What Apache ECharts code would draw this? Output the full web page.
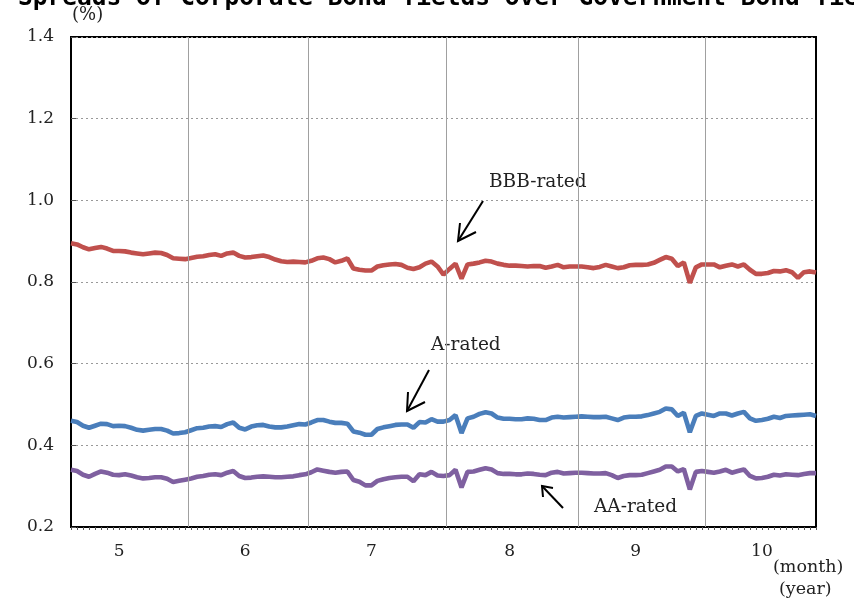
<!DOCTYPE html>
<html>
<head>
<meta charset="utf-8">
<script src="https://cdn.jsdelivr.net/npm/echarts@6/dist/echarts.min.js"></script>
<style>html,body{margin:0;padding:0;background:#fff}#c{width:854px;height:600px}</style>
</head>
<body>
<div id="c"></div>
<script>
// Daily business-day series (index 0 = first day shown in May)
const bbbRated = [0.895,0.892,0.885,0.880,0.883,0.886,0.882,0.876,0.876,0.875,
0.872,0.870,0.868,0.870,0.872,0.871,0.866,0.858,0.857,0.856,
0.859,0.862,0.863,0.866,0.868,0.864,0.870,0.872,0.864,0.860,
0.861,0.863,0.865,0.861,0.855,0.851,0.849,0.850,0.849,0.848,
0.852,0.858,0.860,0.856,0.848,0.852,0.858,0.833,0.830,0.828,
0.828,0.838,0.841,0.843,0.844,0.842,0.835,0.832,0.836,0.845,
0.850,0.838,0.818,0.832,0.845,0.808,0.843,0.845,0.848,0.852,
0.850,0.845,0.842,0.840,0.840,0.839,0.838,0.839,0.839,0.835,
0.838,0.842,0.836,0.838,0.838,0.838,0.836,0.834,0.837,0.842,
0.838,0.834,0.836,0.841,0.842,0.842,0.843,0.847,0.854,0.861,
0.857,0.839,0.848,0.798,0.836,0.843,0.843,0.843,0.836,0.840,
0.843,0.838,0.843,0.830,0.820,0.820,0.822,0.827,0.826,0.829,
0.824,0.810,0.824,0.826,0.823];
const aRated = [0.460,0.457,0.448,0.443,0.448,0.453,0.452,0.447,0.448,0.447,
0.443,0.438,0.436,0.438,0.440,0.440,0.436,0.429,0.430,0.432,
0.437,0.442,0.443,0.446,0.447,0.445,0.452,0.456,0.443,0.439,
0.446,0.449,0.450,0.446,0.444,0.444,0.446,0.449,0.452,0.451,
0.456,0.462,0.462,0.458,0.455,0.455,0.453,0.434,0.431,0.426,
0.426,0.440,0.444,0.447,0.450,0.451,0.451,0.443,0.457,0.456,
0.464,0.458,0.458,0.462,0.474,0.430,0.466,0.470,0.477,0.481,
0.478,0.468,0.465,0.465,0.464,0.464,0.466,0.465,0.462,0.462,
0.468,0.470,0.468,0.469,0.470,0.471,0.470,0.469,0.469,0.470,
0.466,0.462,0.468,0.470,0.470,0.471,0.474,0.478,0.482,0.490,
0.488,0.472,0.480,0.432,0.472,0.478,0.475,0.472,0.478,0.478,
0.473,0.478,0.482,0.466,0.460,0.462,0.465,0.470,0.467,0.472,
0.473,0.474,0.475,0.476,0.472];
const aaRated = [0.340,0.337,0.328,0.323,0.330,0.336,0.333,0.328,0.327,0.329,
0.326,0.322,0.319,0.320,0.322,0.322,0.318,0.310,0.313,0.316,
0.319,0.323,0.325,0.328,0.329,0.327,0.333,0.337,0.325,0.320,
0.321,0.323,0.324,0.323,0.322,0.322,0.323,0.324,0.327,0.329,
0.334,0.341,0.338,0.335,0.333,0.335,0.336,0.315,0.311,0.302,
0.302,0.313,0.317,0.320,0.322,0.323,0.323,0.312,0.329,0.327,
0.335,0.326,0.325,0.327,0.340,0.297,0.335,0.336,0.340,0.344,
0.341,0.332,0.330,0.330,0.329,0.329,0.331,0.330,0.328,0.327,
0.333,0.335,0.331,0.332,0.333,0.333,0.332,0.331,0.331,0.332,
0.327,0.320,0.325,0.327,0.327,0.328,0.332,0.336,0.340,0.348,
0.348,0.336,0.342,0.292,0.335,0.337,0.335,0.333,0.336,0.340,
0.333,0.337,0.341,0.325,0.319,0.320,0.323,0.328,0.326,0.329,
0.328,0.327,0.330,0.332,0.332];
// month tick labels and where they sit (day index), month boundaries (between days)
const monthLabels = ['5','6','7','8','9','10'];
const monthLabelIdx = [8,29,50,73,94,115];
const monthBoundaries = [19.5,39.5,62.5,84.5,105.5];
const yTicks = [0.2,0.4,0.6,0.8,1.0,1.2,1.4];
const seriesNames = ['BBB-rated','A-rated','AA-rated'];

const toPairs = arr => arr.map((v,i)=>[i,v]);
const labelMap = {};
monthLabelIdx.forEach((d,k)=>{labelMap[d]=monthLabels[k];});
const serif = '"DejaVu Serif", "Liberation Serif", serif';

const chart = echarts.init(document.getElementById('c'), null, {renderer:'canvas'});
const option = {
  animation:false,
  backgroundColor:'#fff',
  grid:{left:71,right:38,top:37,bottom:73,show:true,borderColor:'#000',borderWidth:2,backgroundColor:'transparent'},
  xAxis:{
    type:'value',min:0,max:bbbRated.length-1,interval:1,
    axisLine:{show:true,lineStyle:{color:'#000',width:2}},
    axisTick:{show:true,length:3,lineStyle:{color:'#555',width:1}},
    splitLine:{show:false},
    axisLabel:{show:true,margin:16,fontFamily:serif,fontSize:17,color:'#222',
      formatter:v=>labelMap[v]||''}
  },
  yAxis:{
    type:'value',min:yTicks[0],max:yTicks[yTicks.length-1],interval:0.2,
    axisLine:{show:true,lineStyle:{color:'#000',width:2}},
    axisTick:{show:true,inside:true,length:5,lineStyle:{color:'#555'}},
    splitLine:{show:true,lineStyle:{color:'#999',type:[2,3],width:1}},
    axisLabel:{margin:17,fontFamily:serif,fontSize:17,color:'#222',formatter:v=>v.toFixed(1)}
  },
  series:[
    {type:'line',name:'months',data:[],z:1,silent:true,
      markLine:{silent:true,symbol:['none','none'],label:{show:false},
        lineStyle:{color:'#a0a0a0',type:'solid',width:1},
        data:monthBoundaries.map(b=>({xAxis:b}))}},
    {type:'line',name:seriesNames[0],data:toPairs(bbbRated),showSymbol:false,z:3,
      lineStyle:{color:'#C0504D',width:4.6},itemStyle:{color:'#C0504D'}},
    {type:'line',name:seriesNames[1],data:toPairs(aRated),showSymbol:false,z:3,
      lineStyle:{color:'#4A7EBB',width:4.6},itemStyle:{color:'#4A7EBB'}},
    {type:'line',name:seriesNames[2],data:toPairs(aaRated),showSymbol:false,z:3,
      lineStyle:{color:'#7F60A0',width:4.6},itemStyle:{color:'#7F60A0'}}
  ],
  graphic:[
    {type:'text',left:18,top:-14,style:{text:'Spreads of Corporate Bond Yields over Government Bond Yields',
      font:'bold 24.5px "DejaVu Sans Mono", monospace',fill:'#000'}},
    {type:'text',left:72,top:6,style:{text:'(%)',font:'18px '+serif,fill:'#222'}},
    {type:'text',left:773,top:558,style:{text:'(month)',font:'17.5px '+serif,fill:'#222'}},
    {type:'text',left:779,top:580,style:{text:'(year)',font:'17.5px '+serif,fill:'#222'}},
    {type:'text',left:489,top:173,style:{text:seriesNames[0],font:'18.5px '+serif,fill:'#222'}},
    {type:'text',left:431,top:336,style:{text:seriesNames[1],font:'18.5px '+serif,fill:'#222'}},
    {type:'text',left:594,top:498,style:{text:seriesNames[2],font:'18.5px '+serif,fill:'#222'}},
    {type:'polyline',shape:{points:[[483,201],[458,241]]},style:{stroke:'#000',lineWidth:2,fill:null}},
    {type:'polyline',shape:{points:[[460,223],[458,241],[476,232]]},style:{stroke:'#000',lineWidth:2,fill:null}},
    {type:'polyline',shape:{points:[[429,370],[407,411]]},style:{stroke:'#000',lineWidth:2,fill:null}},
    {type:'polyline',shape:{points:[[408,392],[407,411],[425,402]]},style:{stroke:'#000',lineWidth:2,fill:null}},
    {type:'polyline',shape:{points:[[563,508],[542,486]]},style:{stroke:'#000',lineWidth:2,fill:null}},
    {type:'polyline',shape:{points:[[543,497],[542,486],[553,488]]},style:{stroke:'#000',lineWidth:2,fill:null}}
  ]
};
chart.setOption(option);
</script>
</body>
</html>
